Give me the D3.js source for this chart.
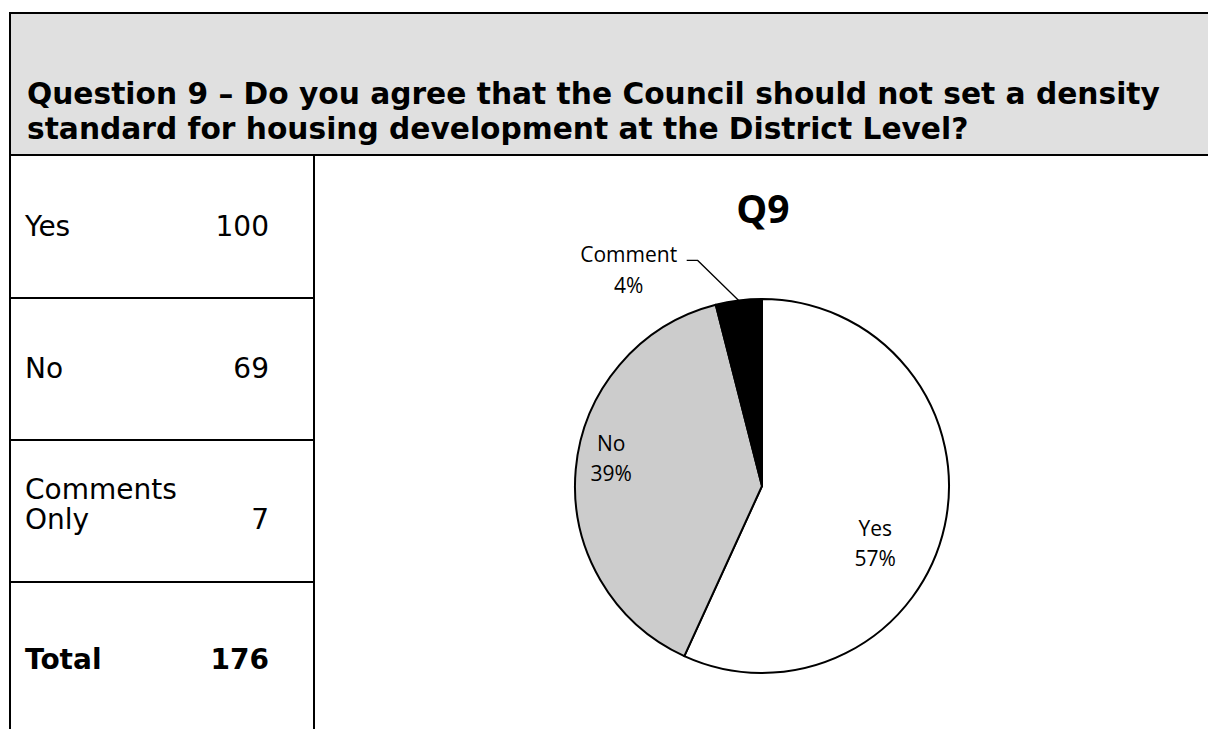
<!DOCTYPE html>
<html>
<head>
<meta charset="utf-8">
<script src="https://cdn.jsdelivr.net/npm/d3@7"></script>
<style>
  html, body { margin: 0; padding: 0; background: #ffffff; }
  svg { display: block; }
</style>
</head>
<body>
<svg id="chart" width="1208" height="729"></svg>
<script>
// Survey responses for Question 9
const questionLines = [
  "Question 9 \u2013 Do you agree that the Council should not set a density",
  "standard for housing development at the District Level?"
];
const categories = ["Yes", "No", "Comment"];
const tableLabels = [["Yes"], ["No"], ["Comments", "Only"]];
const counts = [100, 69, 7];
const totalLabel = "Total";
const totalCount = 176;
const chartTitle = "Q9";

const svg = d3.select("#chart");
const W = 1208, H = 729;

const tableFont = "'DejaVu Sans', Verdana, sans-serif";
const chartFont = "'Open Sans', Lato, sans-serif";

// ---- header band ----
const frame = { left: 10, top: 13, headerBottom: 155, colRight: 314 };
svg.append("rect")
  .attr("x", frame.left).attr("y", frame.top)
  .attr("width", W + 20 - frame.left).attr("height", frame.headerBottom - frame.top)
  .attr("fill", "#e0e0e0").attr("stroke", "#000").attr("stroke-width", 2);

// header question, sized so the first line spans the band
const headerLeft = 27, headerRight = 1160;
const probe = svg.append("text")
  .attr("font-family", tableFont).attr("font-weight", "bold")
  .attr("font-size", 20).text(questionLines[0]);
const headerSize = 20 * (headerRight - headerLeft) / probe.node().getComputedTextLength();
probe.remove();
questionLines.forEach((line, i) => {
  svg.append("text")
    .attr("x", headerLeft).attr("y", 104 + i * 35)
    .attr("font-family", tableFont).attr("font-weight", "bold")
    .attr("font-size", headerSize).attr("fill", "#000")
    .text(line);
});

// ---- left table column ----
const rowEdges = [frame.headerBottom, 298, 440, 582, H + 20];
const grid = svg.append("g").attr("stroke", "#000").attr("stroke-width", 2);
grid.append("line").attr("x1", frame.left).attr("x2", frame.left)
  .attr("y1", frame.headerBottom).attr("y2", H + 5);
grid.append("line").attr("x1", frame.colRight).attr("x2", frame.colRight)
  .attr("y1", frame.headerBottom).attr("y2", H + 5);
rowEdges.slice(1, 4).forEach(y => {
  grid.append("line").attr("x1", frame.left).attr("x2", frame.colRight)
    .attr("y1", y).attr("y2", y);
});

const rows = tableLabels.map((lab, i) => ({ lines: lab, value: counts[i], bold: false }))
  .concat([{ lines: [totalLabel], value: totalCount, bold: true }]);
const bodySize = 28;
const lineGap = 30;
rows.forEach((r, i) => {
  const mid = (i < 3) ? (rowEdges[i] + rowEdges[i + 1]) / 2 : 660;
  const n = r.lines.length;
  const firstBase = mid + 9 - (n - 1) * lineGap / 2 - (n > 1 ? 6 : 0);
  r.lines.forEach((t, j) => {
    svg.append("text")
      .attr("x", 25).attr("y", firstBase + j * lineGap)
      .attr("font-family", tableFont).attr("font-size", bodySize)
      .attr("font-weight", r.bold ? "bold" : "normal")
      .text(t);
  });
  svg.append("text")
    .attr("x", 269).attr("y", firstBase + (n - 1) * lineGap)
    .attr("text-anchor", "end")
    .attr("font-family", tableFont).attr("font-size", bodySize)
    .attr("font-weight", r.bold ? "bold" : "normal")
    .text(r.value);
});

// ---- pie chart ----
const cx = 762, cy = 486, R = 187;
const total = d3.sum(counts);
const fills = d3.scaleOrdinal().domain(categories).range(["#ffffff", "#cccccc", "#000000"]);

const pie = d3.pie().sort(null).value(d => d.value);
const arcs = pie(categories.map((c, i) => ({ cat: c, value: counts[i] })));
const arc = d3.arc().innerRadius(0).outerRadius(R);

const g = svg.append("g").attr("transform", `translate(${cx},${cy})`);
g.selectAll("path.slice").data(arcs).join("path")
  .attr("class", "slice")
  .attr("d", arc)
  .attr("fill", d => fills(d.data.cat))
  .attr("stroke", "#000").attr("stroke-width", 2)
  .attr("stroke-linejoin", "round");

svg.append("text")
  .attr("x", cx + 1).attr("y", 223)
  .attr("text-anchor", "middle")
  .attr("font-family", chartFont).attr("font-weight", "bold")
  .attr("font-size", 39).text(chartTitle);

const pct = v => Math.round(v / total * 100) + "%";
const labelSize = 21;
const labelGap = 30;

// inside labels placed around each slice's centroid
const inside = { Yes: { r: 0.62, dx: 0, dy: 33 }, No: { r: 0.81, dx: 0, dy: -14 } };
arcs.filter(d => inside[d.data.cat]).forEach(d => {
  const o = inside[d.data.cat];
  const [x, y] = d3.arc().innerRadius(0).outerRadius(2 * R * o.r).centroid(d);
  const t = g.append("text")
    .attr("text-anchor", "middle")
    .attr("font-family", chartFont).attr("font-size", labelSize);
  t.append("tspan").attr("x", x + o.dx).attr("y", y + o.dy - labelGap / 2 + 7).text(d.data.cat);
  t.append("tspan").attr("x", x + o.dx).attr("y", y + o.dy + labelGap / 2 + 7).text(pct(d.data.value));
});

// outside label with leader line for the small slice
arcs.filter(d => d.data.cat === "Comment").forEach(d => {
  const mid = (d.startAngle + d.endAngle) / 2;
  const p0 = [Math.sin(mid) * R, -Math.cos(mid) * R];
  const elbow = [p0[0] - 41, p0[1] - 40];
  const end = [elbow[0] - 11, elbow[1]];
  g.append("polyline")
    .attr("points", [p0, elbow, end].map(p => p.join(",")).join(" "))
    .attr("fill", "none").attr("stroke", "#000").attr("stroke-width", 1.3);
  const lx = end[0] - 58;
  const t = g.append("text")
    .attr("text-anchor", "middle")
    .attr("font-family", chartFont).attr("font-size", labelSize);
  t.append("tspan").attr("x", lx).attr("y", elbow[1] + 2).text(d.data.cat);
  t.append("tspan").attr("x", lx).attr("y", elbow[1] + 33).text(pct(d.data.value));
});
</script>
</body>
</html>
